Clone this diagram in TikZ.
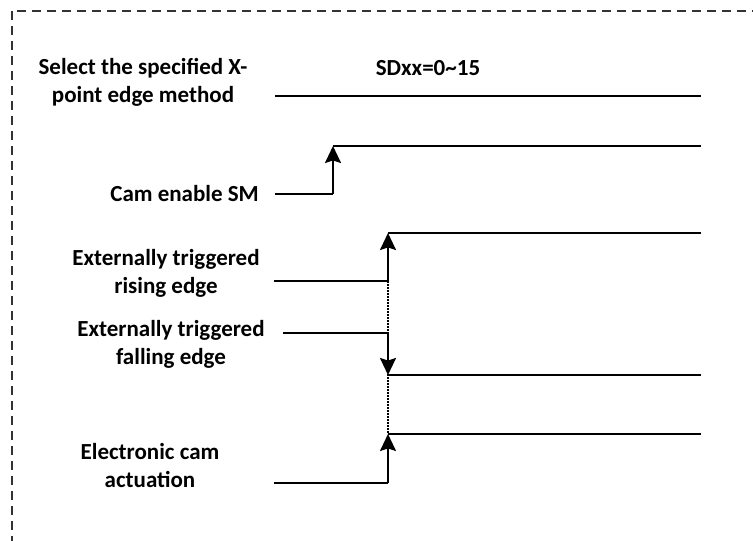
\documentclass[tikz,border=0pt]{standalone}
\usepackage{fontspec}
\setmainfont{Carlito}
\usetikzlibrary{arrows.meta}
\tikzset{
  lbl/.style={font=\bfseries\fontsize{23}{28}\selectfont, align=center, inner sep=0pt},
  wave/.style={line width=2pt, line join=miter},
  edgearrow/.style={line width=2pt, -{Stealth[length=17pt,width=16pt,inset=2.5pt]}},
  guide/.style={line width=1.2pt, dash pattern=on 1.5pt off 1.5pt},
  frame/.style={line width=1.3pt, draw=black!80, dash pattern=on 9pt off 6pt}
}
\begin{document}
\begin{tikzpicture}[x=1pt,y=-1pt]
\useasboundingbox (0,0) rectangle (753,541);
\begin{scope}
\clip (0,0) rectangle (753,541);
\draw[frame] (12,11) rectangle (820,620);
\end{scope}

% coordinates
\coordinate (s1a) at (275,96);  \coordinate (s1b) at (701,96);
\coordinate (c0) at (275,194); \coordinate (c1) at (333,194); \coordinate (c2) at (333,146); \coordinate (c3) at (701,146);
\coordinate (r0) at (274,281); \coordinate (r1) at (388,281); \coordinate (r2) at (388,233); \coordinate (r3) at (701,233);
\coordinate (f0) at (283,333); \coordinate (f1) at (388,333); \coordinate (f2) at (388,375); \coordinate (f3) at (701,375);
\coordinate (a0) at (274,483); \coordinate (a1) at (388,483); \coordinate (a2) at (388,434); \coordinate (a3) at (701,434);

% dotted guide
\draw[guide] (r1) -- (a2);

% waveforms
\draw[wave] (s1a) -- (s1b);
\draw[wave] (c0) -- (c1);
\draw[wave] (c2) -- (c3);
\draw[edgearrow] (c1) -- (c2);
\draw[wave] (r0) -- (r1);
\draw[wave] (r2) -- (r3);
\draw[edgearrow] (r1) -- (r2);
\draw[wave] (f0) -- (f1);
\draw[wave] (f2) -- (f3);
\draw[edgearrow] (f1) -- (f2);
\draw[wave] (a0) -- (a1);
\draw[wave] (a2) -- (a3);
\draw[edgearrow] (a1) -- (a2);

% labels
\node[lbl] (lsel) at (143,82) {Select the specified X-\\point edge method};
\node[lbl] (lsd) at (428,68) {SDxx=0\char`\~15};
\node[lbl, anchor=east] (lcam) at (259,194) {Cam enable SM};
\node[lbl] (lrise) at (166,273) {Externally triggered\\rising edge};
\node[lbl] (lfall) at (171,344) {Externally triggered\\falling edge};
\node[lbl] (lact) at (150,466) {Electronic cam\\actuation};
\end{tikzpicture}
\end{document}
